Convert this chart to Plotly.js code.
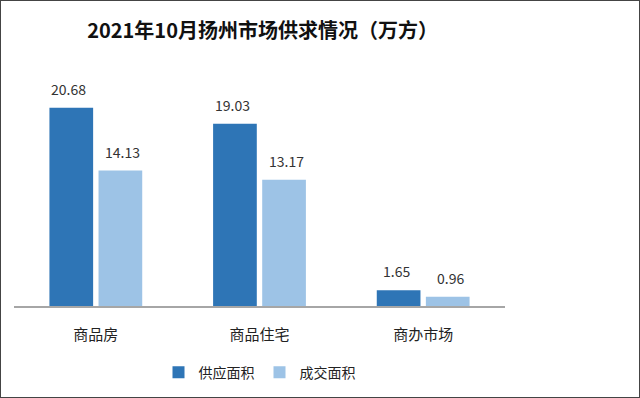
<!DOCTYPE html>
<html><head><meta charset="utf-8">
<script src="https://cdn.plot.ly/plotly-3.0.1.min.js"></script>
<style>
html,body{margin:0;padding:0;background:#fff;}
#chart{width:640px;height:398px;box-sizing:border-box;border:1px solid #444;}
</style></head>
<body><div id="chart"></div>
<script>
const categories = ['商品房', '商品住宅', '商办市场'];
const supplyValues = [20.68, 19.03, 1.65];
const dealValues = [14.13, 13.17, 0.96];
const seriesNames = ['供应面积', '成交面积'];

const font = '"Noto Sans CJK SC", "Noto Sans", sans-serif';
const traces = [
  {type:'bar', name:seriesNames[0], x:categories, y:supplyValues, marker:{color:'#2e75b6'}},
  {type:'bar', name:seriesNames[1], x:categories, y:dealValues, marker:{color:'#9dc3e6'}}
];
const annotations = [];
[[supplyValues,-27],[dealValues,27]].forEach(([vals,dx])=>{
  vals.forEach((v,i)=>annotations.push({x:categories[i], y:v, xref:'x', yref:'y', text:v.toFixed(2),
    showarrow:false, xshift:dx, yshift:19, font:{size:14,color:'#333',family:font}}));
});
const layout = {
  width:638, height:396,
  margin:{l:13, r:134, t:75, b:91, autoexpand:false},
  paper_bgcolor:'#fff', plot_bgcolor:'#fff',
  font:{family:font, color:'#333'},
  title:{text:'<b>2021年10月扬州市场供求情况（万方）</b>', font:{size:20,color:'#111',family:font}, x:0.41, xanchor:'center', y:0.925, yanchor:'middle'},
  barmode:'group', bargap:0.40, bargroupgap:0.11,
  xaxis:{showline:true, linecolor:'#a6a6a6', linewidth:1.5, ticks:'', ticklabelstandoff:14, tickfont:{size:15,color:'#222',family:font}, fixedrange:true},
  yaxis:{range:[0,24], visible:false, showgrid:false, zeroline:false},
  annotations:annotations,
  showlegend:true,
  legend:{orientation:'h', x:0.5, xanchor:'center', y:-0.29, yanchor:'middle', font:{size:14,color:'#222',family:font}, itemwidth:30, traceorder:'normal'}
};
Plotly.newPlot('chart', traces, layout, {displayModeBar:false, staticPlot:true});
</script></body></html>
